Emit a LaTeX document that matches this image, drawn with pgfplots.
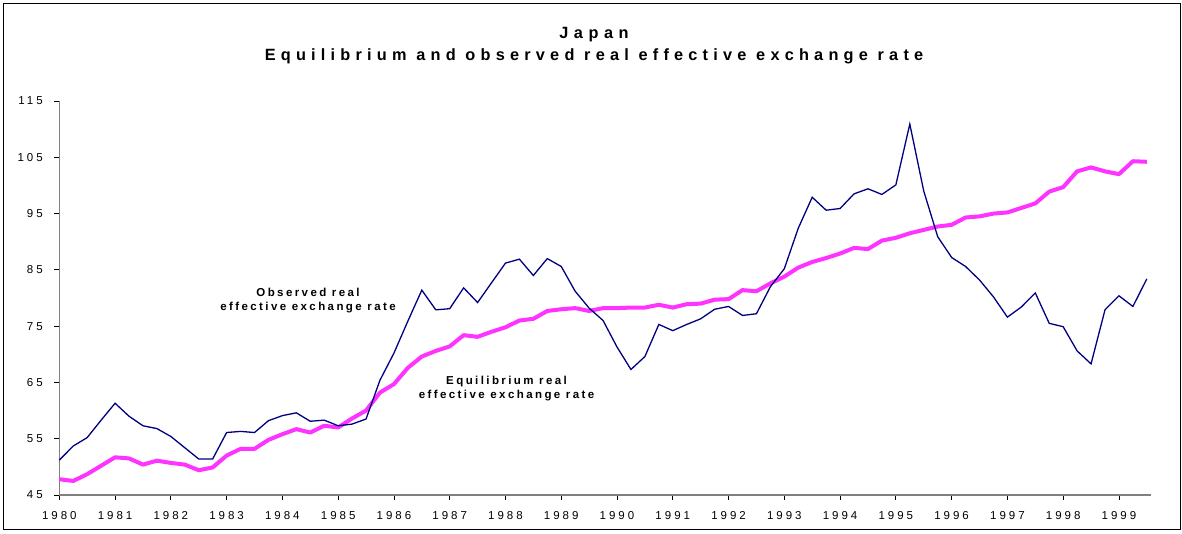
\documentclass[border=0pt]{standalone}
\usepackage{fontspec}
\setmainfont{Liberation Sans}
\usepackage{pgfplots}
\pgfplotsset{compat=1.18}
\definecolor{obsblue}{RGB}{0,0,128}
\definecolor{eqpink}{RGB}{255,51,255}
\pgfplotstableread{
x y
1980.00 51.2
1980.25 53.7
1980.50 55.2
1980.75 58.3
1981.00 61.3
1981.25 59.0
1981.50 57.3
1981.75 56.8
1982.00 55.4
1982.25 53.4
1982.50 51.4
1982.75 51.4
1983.00 56.1
1983.25 56.3
1983.50 56.1
1983.75 58.2
1984.00 59.1
1984.25 59.6
1984.50 58.1
1984.75 58.3
1985.00 57.3
1985.25 57.6
1985.50 58.5
1985.75 65.4
1986.00 70.2
1986.25 75.9
1986.50 81.4
1986.75 77.9
1987.00 78.1
1987.25 81.8
1987.50 79.2
1987.75 82.7
1988.00 86.2
1988.25 86.9
1988.50 84.0
1988.75 87.0
1989.00 85.6
1989.25 81.2
1989.50 78.2
1989.75 76.0
1990.00 71.3
1990.25 67.3
1990.50 69.6
1990.75 75.3
1991.00 74.2
1991.25 75.3
1991.50 76.3
1991.75 78.0
1992.00 78.5
1992.25 76.9
1992.50 77.2
1992.75 82.0
1993.00 85.2
1993.25 92.4
1993.50 97.9
1993.75 95.6
1994.00 95.9
1994.25 98.5
1994.50 99.4
1994.75 98.4
1995.00 100.1
1995.25 110.9
1995.50 99.0
1995.75 90.9
1996.00 87.2
1996.25 85.6
1996.50 83.2
1996.75 80.2
1997.00 76.6
1997.25 78.4
1997.50 80.9
1997.75 75.5
1998.00 74.9
1998.25 70.6
1998.50 68.3
1998.75 77.9
1999.00 80.4
1999.25 78.5
1999.50 83.4
}\observed
\pgfplotstableread{
x y
1980.00 47.8
1980.25 47.5
1980.50 48.7
1980.75 50.2
1981.00 51.7
1981.25 51.5
1981.50 50.4
1981.75 51.1
1982.00 50.7
1982.25 50.4
1982.50 49.4
1982.75 49.9
1983.00 52.0
1983.25 53.2
1983.50 53.2
1983.75 54.8
1984.00 55.8
1984.25 56.7
1984.50 56.1
1984.75 57.3
1985.00 57.0
1985.25 58.6
1985.50 60.0
1985.75 63.2
1986.00 64.7
1986.25 67.6
1986.50 69.6
1986.75 70.6
1987.00 71.4
1987.25 73.4
1987.50 73.1
1987.75 74.0
1988.00 74.8
1988.25 76.0
1988.50 76.3
1988.75 77.7
1989.00 78.0
1989.25 78.2
1989.50 77.7
1989.75 78.2
1990.00 78.2
1990.25 78.3
1990.50 78.3
1990.75 78.8
1991.00 78.3
1991.25 78.9
1991.50 79.0
1991.75 79.7
1992.00 79.8
1992.25 81.4
1992.50 81.2
1992.75 82.6
1993.00 83.8
1993.25 85.4
1993.50 86.4
1993.75 87.1
1994.00 87.9
1994.25 88.9
1994.50 88.7
1994.75 90.2
1995.00 90.7
1995.25 91.5
1995.50 92.1
1995.75 92.7
1996.00 93.0
1996.25 94.3
1996.50 94.5
1996.75 95.0
1997.00 95.2
1997.25 96.0
1997.50 96.8
1997.75 98.9
1998.00 99.7
1998.25 102.5
1998.50 103.2
1998.75 102.5
1999.00 102.0
1999.25 104.3
1999.50 104.2
}\equilibrium
\begin{document}
\begin{tikzpicture}[x=1pt,y=1pt]
\useasboundingbox (0,0) rectangle (1182,533);
\draw[line width=1.5pt] (3.5,3.5) rectangle (1180.5,529.5);
\node[anchor=base, inner sep=0pt, font=\fontsize{16.3}{19}\selectfont\bfseries\addfontfeatures{LetterSpace=34}] at (594,494.7) {Japan};
\node[anchor=base, inner sep=0pt, font=\fontsize{16.3}{19}\selectfont\bfseries\addfontfeatures{LetterSpace=32}] at (594,472) {Equilibrium and observed real effective exchange rate};
\begin{axis}[
  at={(59.3pt,38pt)}, anchor=south west,
  scale only axis, width=1091.7pt, height=394pt,
  xmin=1980, xmax=1999.575, ymin=45, ymax=115,
  axis x line=bottom, axis y line=left,
  axis line style={-, draw=gray, line width=1.5pt},
  xtick={1980,1981,...,1999}, ytick={45,55,...,115},
  tick align=outside, major tick length=5pt,
  tick style={black, line width=0.8pt},
  /pgf/number format/assume math mode=true,
  x tick label style={/pgf/number format/1000 sep={}, yshift=-8pt, font=\fontsize{11.5}{12}\selectfont\addfontfeatures{LetterSpace=26}},
  y tick label style={xshift=-8pt, font=\fontsize{11.5}{12}\selectfont\addfontfeatures{LetterSpace=26}},
  clip=false,
]
\addplot[eqpink, line width=4pt, line join=round] table[x=x,y=y] {\equilibrium};
\addplot[obsblue, line width=1.3pt, line join=miter] table[x=x,y=y] {\observed};
\node[align=center, font=\fontsize{11.5}{14}\selectfont\bfseries\addfontfeatures{LetterSpace=21}] at (axis cs:1984.46,79.6) {Observed real\\effective exchange rate};
\node[align=center, font=\fontsize{11.5}{14}\selectfont\bfseries\addfontfeatures{LetterSpace=21}] at (axis cs:1988.02,64.0) {Equilibrium real\\effective exchange rate};
\end{axis}
\end{tikzpicture}
\end{document}
